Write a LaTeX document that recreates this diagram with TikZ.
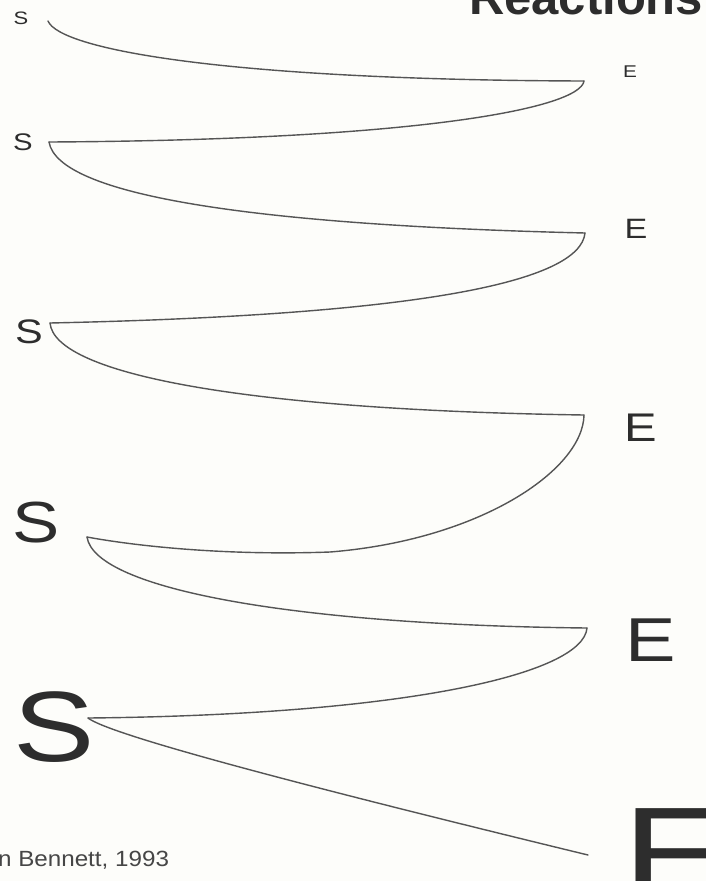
\documentclass[tikz,border=0pt]{standalone}
\usepackage{fontspec}
\setmainfont{Liberation Sans}
\definecolor{paper}{RGB}{253,253,250}
\definecolor{ink}{RGB}{45,45,45}
\definecolor{curve}{RGB}{85,85,85}
\tikzset{
  lbl/.style={inner sep=0pt, outer sep=0pt, text=ink, anchor=center},
  wave/.style={draw=curve, line width=1.4pt, line cap=round, line join=round},
}
\newcommand{\fs}[1]{\fontsize{#1}{#1}\selectfont}
\newcommand{\wide}[1]{\scalebox{1.22}[1]{#1}}
\begin{document}
\begin{tikzpicture}[x=1pt,y=-1pt]
\fill[paper] (0,0) rectangle (706,881);
\useasboundingbox (0,0) rectangle (706,881);

% labels
\node[lbl, font=\fs{18}] (s1) at (21,18) {\wide{S}};
\node[lbl, font=\fs{17}] (e1) at (630,72) {\wide{E}};
\node[lbl, font=\fs{24}] (s2) at (23,142) {\wide{S}};
\node[lbl, font=\fs{28}] (e2) at (636,229) {\wide{E}};
\node[lbl, font=\fs{34}] (s3) at (29,332) {\wide{S}};
\node[lbl, font=\fs{40}] (e3) at (641,428) {\wide{E}};
\node[lbl, font=\fs{58}] (s4) at (36,523) {\wide{S}};
\node[lbl, font=\fs{62}] (e4) at (651,640) {\wide{E}};
\node[lbl, font=\fs{100}] (s5) at (54,727) {\wide{S}};
\node[lbl, font=\fs{135}, anchor=north west] (e5) at (622,809) {\wide{E}};

\node[lbl, font=\fs{49}\bfseries, anchor=base west] (title) at (469,14) {Reactions};
\node[lbl, font=\fs{22}, anchor=base east, text={rgb,255:red,70;green,70;blue,70}] (src) at (169,866) {\scalebox{1.1}[1]{n Bennett, 1993}};

% curve tips
\coordinate (ts1) at (48,21);
\coordinate (te1) at (584,81);
\coordinate (ts2) at (49,142);
\coordinate (te2) at (585,233);
\coordinate (ts3) at (50,323);
\coordinate (te3) at (584,415);
\coordinate (m34) at (330,552);
\coordinate (ts4) at (87,537);
\coordinate (te4) at (587,628);
\coordinate (ts5) at (88,718);
\coordinate (te5) at (588,855);

\draw[wave] (ts1) .. controls (60,50) and (230,80) .. (te1);
\draw[wave] (te1) .. controls (580,108) and (420,140) .. (ts2);
\draw[wave] (ts2) .. controls (58,195) and (250,225) .. (te2);
\draw[wave] (te2) .. controls (580,282) and (420,315) .. (ts3);
\draw[wave] (ts3) .. controls (55,375) and (250,410) .. (te3);
\draw[wave] (te3) .. controls (583,470) and (480,540) .. (m34)
                  .. controls (220,556) and (130,545) .. (ts4);
\draw[wave] (ts4) .. controls (95,590) and (300,625) .. (te4);
\draw[wave] (te4) .. controls (583,675) and (400,715) .. (ts5);
\draw[wave] (ts5) .. controls (110,735) and (300,785) .. (te5);
\end{tikzpicture}
\end{document}
